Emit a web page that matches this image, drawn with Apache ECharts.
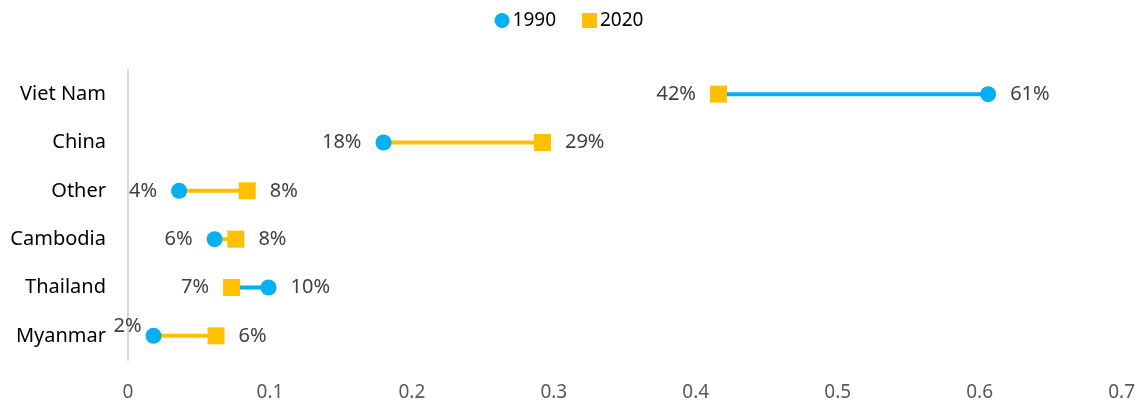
<!DOCTYPE html>
<html>
<head>
<meta charset="utf-8">
<script src="https://cdn.jsdelivr.net/npm/echarts@6/dist/echarts.min.js"></script>
<style>
  html, body { margin: 0; padding: 0; background: #fff; }
  #main { width: 1138px; height: 406px; }
</style>
</head>
<body>
<div id="main"></div>
<script>
// data
const categories = ['Viet Nam', 'China', 'Other', 'Cambodia', 'Thailand', 'Myanmar'];
const values1990 = [0.606, 0.18, 0.036, 0.061, 0.099, 0.018];
const values2020 = [0.416, 0.292, 0.084, 0.076, 0.073, 0.062];
const xTicks = [0, 0.1, 0.2, 0.3, 0.4, 0.5, 0.6, 0.7];

const BLUE = '#00B0F0';
const GOLD = '#FFC000';
const FONT = 'Noto Sans';

let myChart = echarts.init(document.getElementById('main'));

// label on the outer side of each pair
function labelFor(own, other) {
  let lab = {};
  if (own >= other) {
    lab.position = 'right';
  } else {
    lab.position = 'left';
    if (own < 0.025) {
      lab.distance = 4;
      lab.offset = [0, -10];
    }
  }
  return lab;
}

let data1990 = values1990.map((v, i) => ({ value: [v, i], label: labelFor(v, values2020[i]) }));
let data2020 = values2020.map((v, i) => ({ value: [v, i], label: labelFor(v, values1990[i]) }));
let segData = categories.map((c, i) => [i, values1990[i], values2020[i]]);

let option = {
  animation: false,
  textStyle: { fontFamily: FONT },
  legend: {
    top: 6,
    left: 'center',
    itemGap: 26,
    itemWidth: 15,
    itemHeight: 15,
    textStyle: { fontSize: 19, color: '#000', fontFamily: FONT, padding: [0, 0, 0, -2] },
    data: ['1990', '2020']
  },
  grid: { left: 128, right: 11, top: 70, bottom: 46 },
  xAxis: {
    type: 'value',
    min: 0,
    max: 0.7,
    interval: 0.1,
    axisLine: { show: false },
    axisTick: { show: false },
    splitLine: { show: false },
    axisLabel: {
      fontSize: 19,
      color: '#595959',
      margin: 23,
      formatter: v => {
        let t = xTicks.find(x => Math.abs(x - v) < 1e-9);
        return t === undefined ? '' : String(t);
      }
    }
  },
  yAxis: {
    type: 'category',
    inverse: true,
    data: categories,
    axisLine: { show: true, lineStyle: { color: '#D9D9D9', width: 2 } },
    axisTick: { show: false },
    axisLabel: { fontSize: 20, color: '#000', margin: 22 }
  },
  series: [
    {
      type: 'custom',
      silent: true,
      z: 1,
      data: segData,
      encode: { y: 0, x: [1, 2] },
      renderItem: function (params, api) {
        let i = api.value(0);
        let a = api.value(1);
        let b = api.value(2);
        let p1 = api.coord([a, i]);
        let p2 = api.coord([b, i]);
        return {
          type: 'line',
          shape: { x1: p1[0], y1: p1[1], x2: p2[0], y2: p2[1] },
          style: { stroke: a > b ? BLUE : GOLD, lineWidth: 4 }
        };
      }
    },
    {
      name: '1990',
      type: 'scatter',
      z: 3,
      symbol: 'circle',
      symbolSize: 16,
      itemStyle: { color: BLUE, opacity: 1 },
      label: {
        show: true,
        distance: 14,
        fontSize: 20,
        color: '#404040',
        formatter: p => Math.round(p.value[0] * 100) + '%'
      },
      data: data1990
    },
    {
      name: '2020',
      type: 'scatter',
      z: 3,
      symbol: 'rect',
      symbolSize: 17,
      itemStyle: { color: GOLD, opacity: 1 },
      label: {
        show: true,
        distance: 14,
        fontSize: 20,
        color: '#404040',
        formatter: p => Math.round(p.value[0] * 100) + '%'
      },
      data: data2020
    }
  ]
};

myChart.setOption(option);
</script>
</body>
</html>
